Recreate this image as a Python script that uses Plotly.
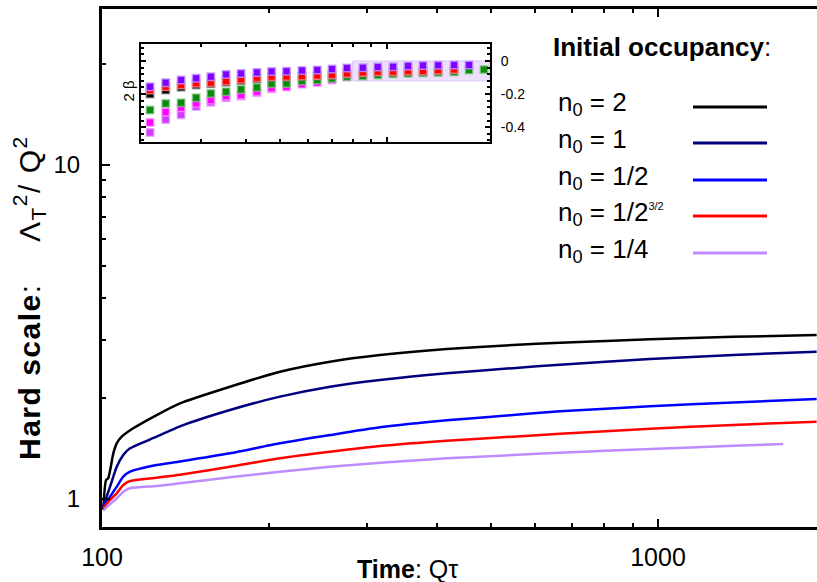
import plotly.graph_objects as go

# ---- main panel: hard scale vs time for each initial occupancy ----
t_n2 = [100.5, 101.7, 102.6, 104.8, 106.3, 108.5, 113.8, 125.4, 138.1, 169.9, 209.0,
        257.1, 316.2, 416.9, 548.5, 666.3, 967, 1366, 1929]
lam_n2 = [0.927, 1.140, 1.153, 1.370, 1.468, 1.537, 1.628, 1.784, 1.934, 2.169, 2.405,
          2.577, 2.698, 2.813, 2.891, 2.935, 3.01, 3.06, 3.097]

t_n1 = [100.5, 103.4, 106.3, 109.2, 112.3, 125.4, 138.1, 169.9, 209.0, 257.1,
        316.2, 416.9, 548.5, 666.3, 967, 1366, 1929]
lam_n1 = [0.948, 1.089, 1.249, 1.354, 1.418, 1.537, 1.650, 1.847, 2.025, 2.169,
          2.272, 2.379, 2.465, 2.525, 2.625, 2.70, 2.761]

t_nhalf = [100.5, 103.4, 106.3, 109.2, 112.3, 125.4, 138.1, 169.9, 209.0, 257.1, 316.2, 416.9,
           548.5, 666.3, 967, 1366, 1929]
lam_nhalf = [0.948, 1.016, 1.089, 1.166, 1.207, 1.264, 1.295, 1.370, 1.468, 1.554, 1.639, 1.720,
             1.784, 1.830, 1.895, 1.945, 1.993]

t_n32 = [100.5, 103.4, 106.3, 109.2, 112.3, 125.4, 138.1, 169.9, 209.0, 257.1, 316.2, 416.9,
         548.5, 666.3, 967, 1366, 1929]
lam_n32 = [0.939, 0.993, 1.040, 1.101, 1.132, 1.158, 1.182, 1.249, 1.324, 1.385, 1.441, 1.495,
           1.537, 1.568, 1.622, 1.666, 1.704]

t_nquarter = [100.5, 103.4, 106.3, 109.2, 112.3, 125.4, 138.1, 169.9, 209.0, 257.1, 316.2,
              416.9, 548.5, 666.3, 967, 1366, 1680]
lam_nquarter = [0.923, 0.966, 1.005, 1.052, 1.077, 1.094, 1.114, 1.161, 1.207, 1.249, 1.284,
                1.324, 1.354, 1.376, 1.411, 1.444, 1.461]

series_names = ["n<sub>0</sub> = 2", "n<sub>0</sub> = 1", "n<sub>0</sub> = 1/2",
                "n<sub>0</sub> = 1/2<sup><span style=\"font-size:11px\">3/2</span></sup>",
                "n<sub>0</sub> = 1/4"]
series_colors = ["#000000", "#00007F", "#0000FF", "#FF0000", "#BF8CFF"]

# ---- inset: 2 beta vs time ----
t_inset = [215, 238, 263, 290, 319, 352, 388, 430, 473, 521, 576, 636, 700, 771, 855, 942,
           1040, 1146, 1263, 1393, 1545, 1702, 1875]
beta_purple = [-0.156, -0.131, -0.115, -0.105, -0.095, -0.081, -0.075, -0.069, -0.064, -0.062,
               -0.058, -0.055, -0.049, -0.042, -0.040, -0.036, -0.035, -0.030, -0.027, -0.026,
               -0.024, -0.024, None]
beta_red = [-0.176, -0.156, -0.145, -0.135, -0.131, -0.121, -0.111, -0.101, -0.095, -0.094,
            -0.090, -0.087, -0.083, -0.075, -0.070, -0.065, -0.065, -0.061, -0.061, -0.056,
            -0.051, None, None]
beta_black = [-0.200, -0.176, -0.158, -0.145, -0.138, -0.128, -0.118, -0.108, -0.100, -0.098,
              -0.094, -0.090, -0.086, -0.078, -0.072, -0.068, -0.067, -0.063, -0.063, -0.058,
              -0.054, None, None]
beta_green = [-0.297, -0.257, -0.253, -0.222, -0.196, -0.186, -0.172, -0.160, -0.137, -0.136,
              -0.121, -0.115, -0.106, -0.095, -0.091, -0.085, -0.079, -0.075, -0.073, -0.070,
              -0.067, -0.055, -0.052]
beta_magenta = [-0.372, -0.309, -0.283, -0.255, -0.236, -0.212, -0.206, -0.186, -0.163, -0.157,
                -0.140, -0.130, -0.115, -0.097, -0.091, None, None, None, None, None, None,
                None, None]
beta_violet = [-0.432, -0.354, -0.325, -0.275, -0.250, -0.222, -0.212, -0.190, -0.168, None,
               None, None, None, None, None, None, None, None, None, None, None, None, None]

band_start = 800
band_low = -0.12

FONT = "Liberation Sans, Arial, sans-serif"

fig = go.Figure()

main_t = [t_n2, t_n1, t_nhalf, t_n32, t_nquarter]
main_v = [lam_n2, lam_n1, lam_nhalf, lam_n32, lam_nquarter]
for tt, vv, col in zip(main_t, main_v, series_colors):
    fig.add_trace(go.Scatter(x=tt, y=vv, mode="lines",
                             line=dict(color=col, width=2.5, shape="spline", smoothing=0.6),
                             showlegend=False, xaxis="x", yaxis="y"))

inset_sets = [
    (beta_violet, "#D23CFF", "rgba(225,150,255,0.7)"),
    (beta_magenta, "#FF00FF", "rgba(255,150,255,0.7)"),
    (beta_green, "#0A8A0A", "rgba(140,200,140,0.7)"),
    (beta_black, "#000000", "rgba(120,120,120,0.6)"),
    (beta_red, "#FF0000", "rgba(255,150,150,0.7)"),
    (beta_purple, "#7F00FF", "rgba(190,150,255,0.8)"),
]
for vals, col, edge in inset_sets:
    fig.add_trace(go.Scatter(x=t_inset, y=vals, mode="markers",
                             marker=dict(symbol="square", size=7.5, color=col,
                                         line=dict(color=edge, width=1.5)),
                             showlegend=False, xaxis="x2", yaxis="y2"))

W, H = 817, 582
ML, MR, MT, MB = 102, 0, 9, 55
PW, PH = W - ML - MR, H - MT - MB


def px(x):
    return (x - ML) / PW


def py(y):
    return 1 - (y - MT) / PH


axis_common = dict(showline=True, linecolor="black", showgrid=False, zeroline=False,
                   ticks="inside", tickcolor="black")

fig.update_layout(
    width=W, height=H,
    margin=dict(l=ML, r=MR, t=MT, b=MB, pad=0),
    paper_bgcolor="white", plot_bgcolor="white",
    font=dict(family=FONT, color="black"),
    xaxis=dict(type="log", range=[2, 2 + PW / 556], linewidth=3, mirror="allticks",
               tickvals=[100, 1000], ticktext=["100", "1000"], ticklen=8, tickwidth=2,
               tickfont=dict(size=25, family=FONT), ticklabelstandoff=6,
               minor=dict(tickvals=[200, 300, 400, 500, 600, 700, 800, 900], ticklen=4,
                          tickwidth=2, ticks="inside", tickcolor="black", showgrid=False),
               **axis_common),
    yaxis=dict(type="log", range=[(499 - 527) / 334, (499 - MT) / 334], linewidth=3,
               tickvals=[1, 10], ticktext=["1", "10"], ticklen=8, tickwidth=2,
               tickfont=dict(size=24, family=FONT), ticklabelstandoff=14,
               minor=dict(tickvals=[2, 3, 4, 5, 6, 7, 8, 9, 20], ticklen=4, tickwidth=2,
                          ticks="inside", tickcolor="black", showgrid=False),
               **axis_common),
    xaxis2=dict(type="log", range=[2.307, 3.290], domain=[px(141), px(490)], anchor="y2",
                linewidth=2, mirror="allticks", showticklabels=False,
                tickvals=[1000], ticklen=5, tickwidth=1.5,
                minor=dict(tickvals=[300, 400, 500, 600, 700, 800, 900], ticklen=3,
                           tickwidth=1.5, ticks="inside", tickcolor="black", showgrid=False),
                **axis_common),
    yaxis2=dict(range=[-0.49, 0.103], domain=[py(142), py(44)], anchor="x2", side="right",
                linewidth=2, mirror="allticks", tickvals=[0, -0.2, -0.4],
                ticktext=["0", "-0.2", "-0.4"], ticklen=5, tickwidth=1.5,
                tickfont=dict(size=14, family=FONT), ticklabelstandoff=6,
                minor=dict(dtick=0.04, tick0=0, ticklen=3, tickwidth=1.5, ticks="inside",
                           tickcolor="black", showgrid=False),
                **axis_common),
)

# inset reference line at zero and the shaded band
fig.add_shape(type="rect", xref="x2", yref="y2", x0=band_start, x1=1950, y0=band_low, y1=0,
              fillcolor="rgba(238,224,252,1)", line=dict(color="rgba(218,196,246,1)", width=1),
              layer="below")
fig.add_shape(type="line", xref="x2 domain", yref="y2", x0=0, x1=1, y0=0, y1=0,
              line=dict(color="#BDBDBD", width=3, dash="3px,2px"), layer="below")

# axis titles
fig.add_annotation(xref="paper", yref="paper", x=px(407), y=py(569), xanchor="center",
                   yanchor="middle", showarrow=False,
                   text="<b>Time</b>: Q\u03c4", font=dict(size=25, family=FONT))
fig.add_annotation(xref="paper", yref="paper", x=px(29), y=py(298), xanchor="center",
                   yanchor="middle", showarrow=False, textangle=-90,
                   text=("<span style=\"letter-spacing:1.5px\"><b>Hard scale</b>:"
                         "\u2003 \u039b<sub>T</sub><sup>2</sup>/ Q<sup>2</sup></span>"),
                   font=dict(size=30, family=FONT))
fig.add_annotation(xref="paper", yref="paper", x=px(127.5), y=py(91), xanchor="center",
                   yanchor="middle", showarrow=False, textangle=-90,
                   text="2 \u03b2", font=dict(size=15, family=FONT))

# key for the curves
fig.add_annotation(xref="paper", yref="paper", x=px(551), y=py(47), xanchor="left",
                   yanchor="middle", showarrow=False,
                   text="<b>Initial occupancy</b>:", font=dict(size=26, family=FONT))
row_y = [107, 143, 180, 216, 253]
for name, col, ry in zip(series_names, series_colors, row_y):
    fig.add_annotation(xref="paper", yref="paper", x=px(556), y=py(ry - 3), xanchor="left",
                       yanchor="middle", showarrow=False, text=name,
                       font=dict(size=26, family=FONT))
    fig.add_shape(type="line", xref="paper", yref="paper", x0=px(693), x1=px(767),
                  y0=py(ry), y1=py(ry), line=dict(color=col, width=3))

fig.write_html("out.html")
